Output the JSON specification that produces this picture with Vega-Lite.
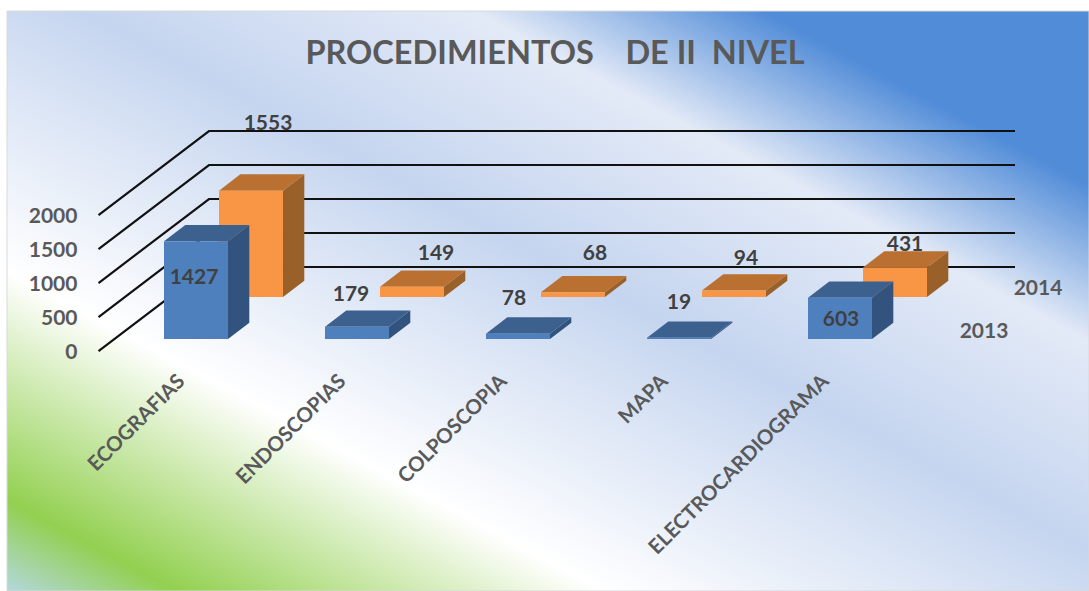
{
"$schema":"https://vega.github.io/schema/vega-lite/v6.json",
"width":1082,"height":580,
"autosize":{"type":"none"},
"padding":{"left":7,"top":11,"right":0,"bottom":0},
"background":"#ffffff",
"title":{"text":"PROCEDIMIENTOS\u00a0\u00a0\u00a0\u00a0DE II\u00a0\u00a0NIVEL","anchor":"middle","frame":"group","offset":-60,"dx":7,"font":"Lato","fontSize":32.5,"fontWeight":"bold","color":"#595959"},
"datasets":{
"barras":[
{"categoria":"ECOGRAFIAS","serie":"2014","valor":1553},
{"categoria":"ENDOSCOPIAS","serie":"2014","valor":149},
{"categoria":"COLPOSCOPIA","serie":"2014","valor":68},
{"categoria":"MAPA","serie":"2014","valor":94},
{"categoria":"ELECTROCARDIOGRAMA","serie":"2014","valor":431},
{"categoria":"ECOGRAFIAS","serie":"2013","valor":1427},
{"categoria":"ENDOSCOPIAS","serie":"2013","valor":179},
{"categoria":"COLPOSCOPIA","serie":"2013","valor":78},
{"categoria":"MAPA","serie":"2013","valor":19},
{"categoria":"ELECTROCARDIOGRAMA","serie":"2013","valor":603}
],
"marcas":[{"marca":0},{"marca":500},{"marca":1000},{"marca":1500},{"marca":2000}],
"series":[{"serie":"2013"},{"serie":"2014"}],
"fondo":[{"nombre":"fondo"}]
},
"encoding":{
"x":{"field":"X","type":"quantitative","axis":null,"scale":{"domain":[-0.97516,5.7453],"nice":false,"zero":false}},
"y":{"field":"Y","type":"quantitative","axis":null,"scale":{"domain":[-3678.8,4788.3],"nice":false,"zero":false}}
},
"layer":[
{"data":{"name":"fondo"},
 "mark":{"type":"rect","stroke":"#d9d9d9","strokeWidth":1,"fill":{"gradient":"linear","x1":0,"y1":1,"x2":1,"y2":0,"stops":[
  {"offset":0,"color":"#b3d8dc"},{"offset":0.078,"color":"#92d050"},{"offset":0.275,"color":"#ffffff"},{"offset":0.535,"color":"#c5d5ef"},{"offset":0.715,"color":"#e3eaf7"},{"offset":0.85,"color":"#518cd8"},{"offset":1,"color":"#518cd8"}]}},
 "encoding":{"x":{"value":0},"x2":{"value":"width"},"y":{"value":0},"y2":{"value":"height"}}},
{"data":{"name":"marcas"},
 "transform":[
  {"calculate":"[0,1,2]","as":"esquinas"},
  {"flatten":["esquinas"],"as":["esq"]},
  {"calculate":"[-0.4068,0.2795,5.2857][datum.esq]","as":"X"},
  {"calculate":"[-175.2,1051,1051][datum.esq]+datum.marca*0.9927","as":"Y"}
 ],
 "mark":{"type":"line","stroke":"#111111","strokeWidth":2.2,"strokeJoin":"miter"},
 "encoding":{"detail":{"field":"marca"},"order":{"field":"esq","type":"quantitative"}}},
{"data":{"name":"barras"},
 "transform":[
  {"calculate":"indexof(['ECOGRAFIAS','ENDOSCOPIAS','COLPOSCOPIA','MAPA','ELECTROCARDIOGRAMA'],datum.categoria)","as":"i"},
  {"calculate":"datum.serie=='2014'?1:0","as":"d"},
  {"calculate":"['lado','techo','frente']","as":"caras"},
  {"flatten":["caras"],"as":["cara"]},
  {"calculate":"[0,1,2,3]","as":"esquinas"},
  {"flatten":["esquinas"],"as":["esq"]},
  {"calculate":"({frente:[[0,0,1],[1,0,1],[1,0,0],[0,0,0]],lado:[[1,0,1],[1,1,1],[1,1,0],[1,0,0]],techo:[[0,0,1],[1,0,1],[1,1,1],[0,1,1]]})[datum.cara][datum.esq]","as":"m"},
  {"calculate":"datum.i+datum.d*0.3416+datum.m[0]*0.3975+datum.m[1]*0.1323","as":"X"},
  {"calculate":"datum.d*613+datum.m[2]*datum.valor+datum.m[1]*238","as":"Y"},
  {"calculate":"datum.serie+' '+datum.cara","as":"clave"}
 ],
 "mark":{"type":"line","stroke":null},
 "encoding":{
  "fill":{"field":"clave","type":"nominal","legend":null,"scale":{
    "domain":["2013 frente","2013 techo","2013 lado","2014 frente","2014 techo","2014 lado"],
    "range":["#4e80bd","#3c618f","#31537d","#f99646","#b97030","#99602a"]}},
  "detail":{"field":"categoria"},
  "order":{"field":"esq","type":"quantitative"}}},
{"data":{"name":"barras"},
 "transform":[
  {"calculate":"indexof(['ECOGRAFIAS','ENDOSCOPIAS','COLPOSCOPIA','MAPA','ELECTROCARDIOGRAMA'],datum.categoria)","as":"i"},
  {"calculate":"datum.serie=='2014'?1:0","as":"d"},
  {"calculate":"[[[-2,37],[-6,-32],[-4,-35],[0,-35],[1,22]],[[17,-67],[24,-33],[22,-38],[12,-32],[10,-22]]][datum.d][datum.i]","as":"desp"},
  {"calculate":"datum.i+datum.d*0.3416+0.19875+datum.desp[0]/161","as":"X"},
  {"calculate":"datum.d*613+datum.valor-datum.desp[1]/0.0685","as":"Y"}
 ],
 "mark":{"type":"text","font":"Lato","fontSize":21,"fontWeight":"bold","color":"#404040","align":"center","baseline":"middle"},
 "encoding":{"text":{"field":"valor","type":"quantitative"}}},
{"data":{"name":"barras"},
 "transform":[
  {"filter":"datum.serie=='2013'"},
  {"calculate":"indexof(['ECOGRAFIAS','ENDOSCOPIAS','COLPOSCOPIA','MAPA','ELECTROCARDIOGRAMA'],datum.categoria)+0.11","as":"X"},
  {"calculate":"-575","as":"Y"}
 ],
 "mark":{"type":"text","font":"Lato","fontSize":20.5,"fontWeight":"bold","color":"#595959","align":"right","baseline":"middle","angle":-45},
 "encoding":{"text":{"field":"categoria","type":"nominal"}}},
{"data":{"name":"marcas"},
 "transform":[
  {"calculate":"-0.5373","as":"X"},
  {"calculate":"-204+datum.marca*0.9927","as":"Y"}
 ],
 "mark":{"type":"text","font":"Lato","fontSize":21,"fontWeight":"bold","color":"#595959","align":"right","baseline":"middle"},
 "encoding":{"text":{"field":"marca","type":"quantitative"}}},
{"data":{"name":"series"},
 "transform":[
  {"calculate":"datum.serie=='2014'?5.4286:5.0932","as":"X"},
  {"calculate":"datum.serie=='2014'?730:102","as":"Y"}
 ],
 "mark":{"type":"text","font":"Lato","fontSize":21,"fontWeight":"bold","color":"#595959","align":"center","baseline":"middle"},
 "encoding":{"text":{"field":"serie","type":"nominal"}}}
]
}
